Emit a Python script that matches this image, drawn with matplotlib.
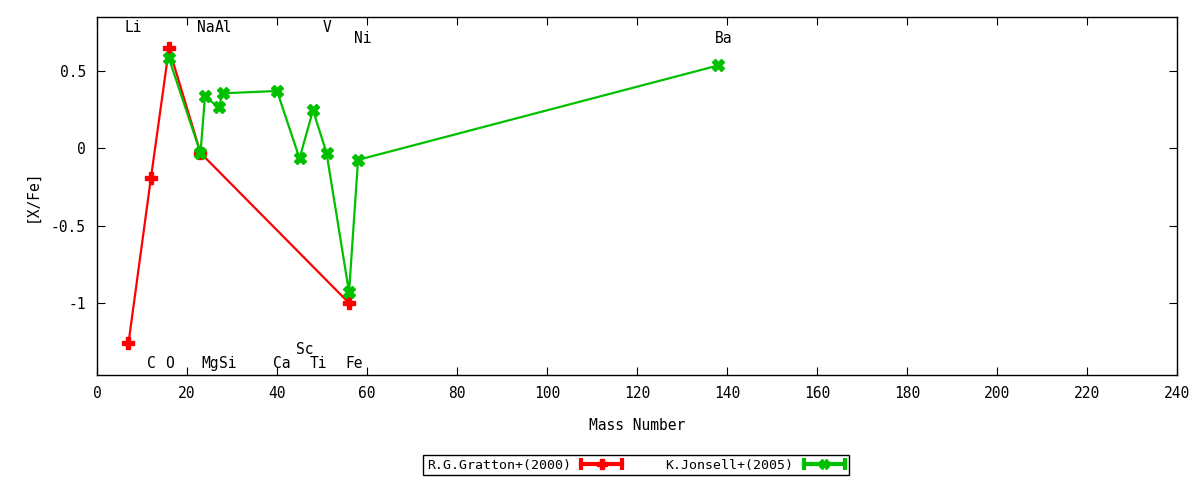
import matplotlib
matplotlib.use("Agg")
import matplotlib.pyplot as plt
from matplotlib.lines import Line2D
from matplotlib.legend_handler import HandlerLine2D, HandlerTuple
from matplotlib.ticker import MultipleLocator, FormatStrFormatter

plt.rcParams['font.family'] = ['DejaVu Sans Mono']
plt.rcParams['font.size'] = 10
plt.rcParams['axes.unicode_minus'] = False

# Gratton et al. (2000)
gratton_mass = [7, 12, 16, 23, 56]
gratton_xfe = [-1.26, -0.19, 0.645, -0.03, -1.0]

# Jonsell et al. (2005)
jonsell_mass = [16, 23, 24, 27, 28, 40, 45, 48, 51, 56, 58, 138]
jonsell_xfe = [0.58, -0.03, 0.335, 0.265, 0.355, 0.37, -0.065, 0.245, -0.03, -0.93, -0.075, 0.535]

# element labels (mass number, label height)
elements = ['Li', 'C', 'O', 'Na', 'Mg', 'Al', 'Si', 'Ca', 'Sc', 'Ti', 'V', 'Fe', 'Ni', 'Ba']
elem_mass = [7, 12, 16, 23, 24, 27, 28, 40, 45, 48, 51, 56, 58, 138]
elem_y = [0.78, -1.39, -1.39, 0.78, -1.39, 0.78, -1.39, -1.39, -1.30, -1.39, 0.78, -1.39, 0.71, 0.71]

RED = '#ff0000'
GREEN = '#00c000'

fig = plt.figure(figsize=(12, 4.8), dpi=100)
ax = fig.add_axes([0.0808, 0.2187, 0.9003, 0.7459])

ax.plot(gratton_mass, gratton_xfe, color=RED, lw=1.6, marker='P', ms=8, zorder=3)
ax.plot(jonsell_mass, jonsell_xfe, color=GREEN, lw=1.6, marker='X', ms=8, zorder=4)

for name, m, y in zip(elements, elem_mass, elem_y):
    ax.text(m - 0.8, y, name, ha='left', va='center', fontsize=10.5)

ax.set_xlim(0, 240)
ax.set_ylim(-1.465, 0.848)
ax.xaxis.set_major_locator(MultipleLocator(20))
ax.yaxis.set_major_locator(MultipleLocator(0.5))
ax.yaxis.set_major_formatter(FormatStrFormatter('%g'))
ax.tick_params(direction='in', length=6, top=True, right=True, labelsize=10.5, pad=8)
for s in ax.spines.values():
    s.set_linewidth(1)

ax.set_xlabel('Mass Number', fontsize=10.5, labelpad=12)
ax.set_ylabel('[X/Fe]', fontsize=10.5, labelpad=8)

# gnuplot-like legend keys: line with end caps and point in the middle
handles = []
hmap = {}
for c, mk in [(RED, 'P'), (GREEN, 'X')]:
    cap = Line2D([], [], color=c, lw=3, marker='|', ms=8, mew=3)
    pt = Line2D([], [], color=c, ls='none', marker=mk, ms=7)
    hmap[cap] = HandlerLine2D(numpoints=2, marker_pad=0.05)
    hmap[pt] = HandlerLine2D(numpoints=1)
    handles.append((cap, pt))

leg = fig.legend(handles, ['R.G.Gratton+(2000)', 'K.Jonsell+(2005)'],
                 handler_map={**hmap, tuple: HandlerTuple(ndivide=1, pad=0)},
                 loc='center', bbox_to_anchor=(0.53, 0.031), ncol=2,
                 markerfirst=False, handlelength=3.2, columnspacing=3.2,
                 handletextpad=0.75, borderpad=0.25, fontsize=9.5,
                 fancybox=False, edgecolor='black', framealpha=1)
leg.get_frame().set_linewidth(1)

fig.savefig('out.png', dpi=100)
